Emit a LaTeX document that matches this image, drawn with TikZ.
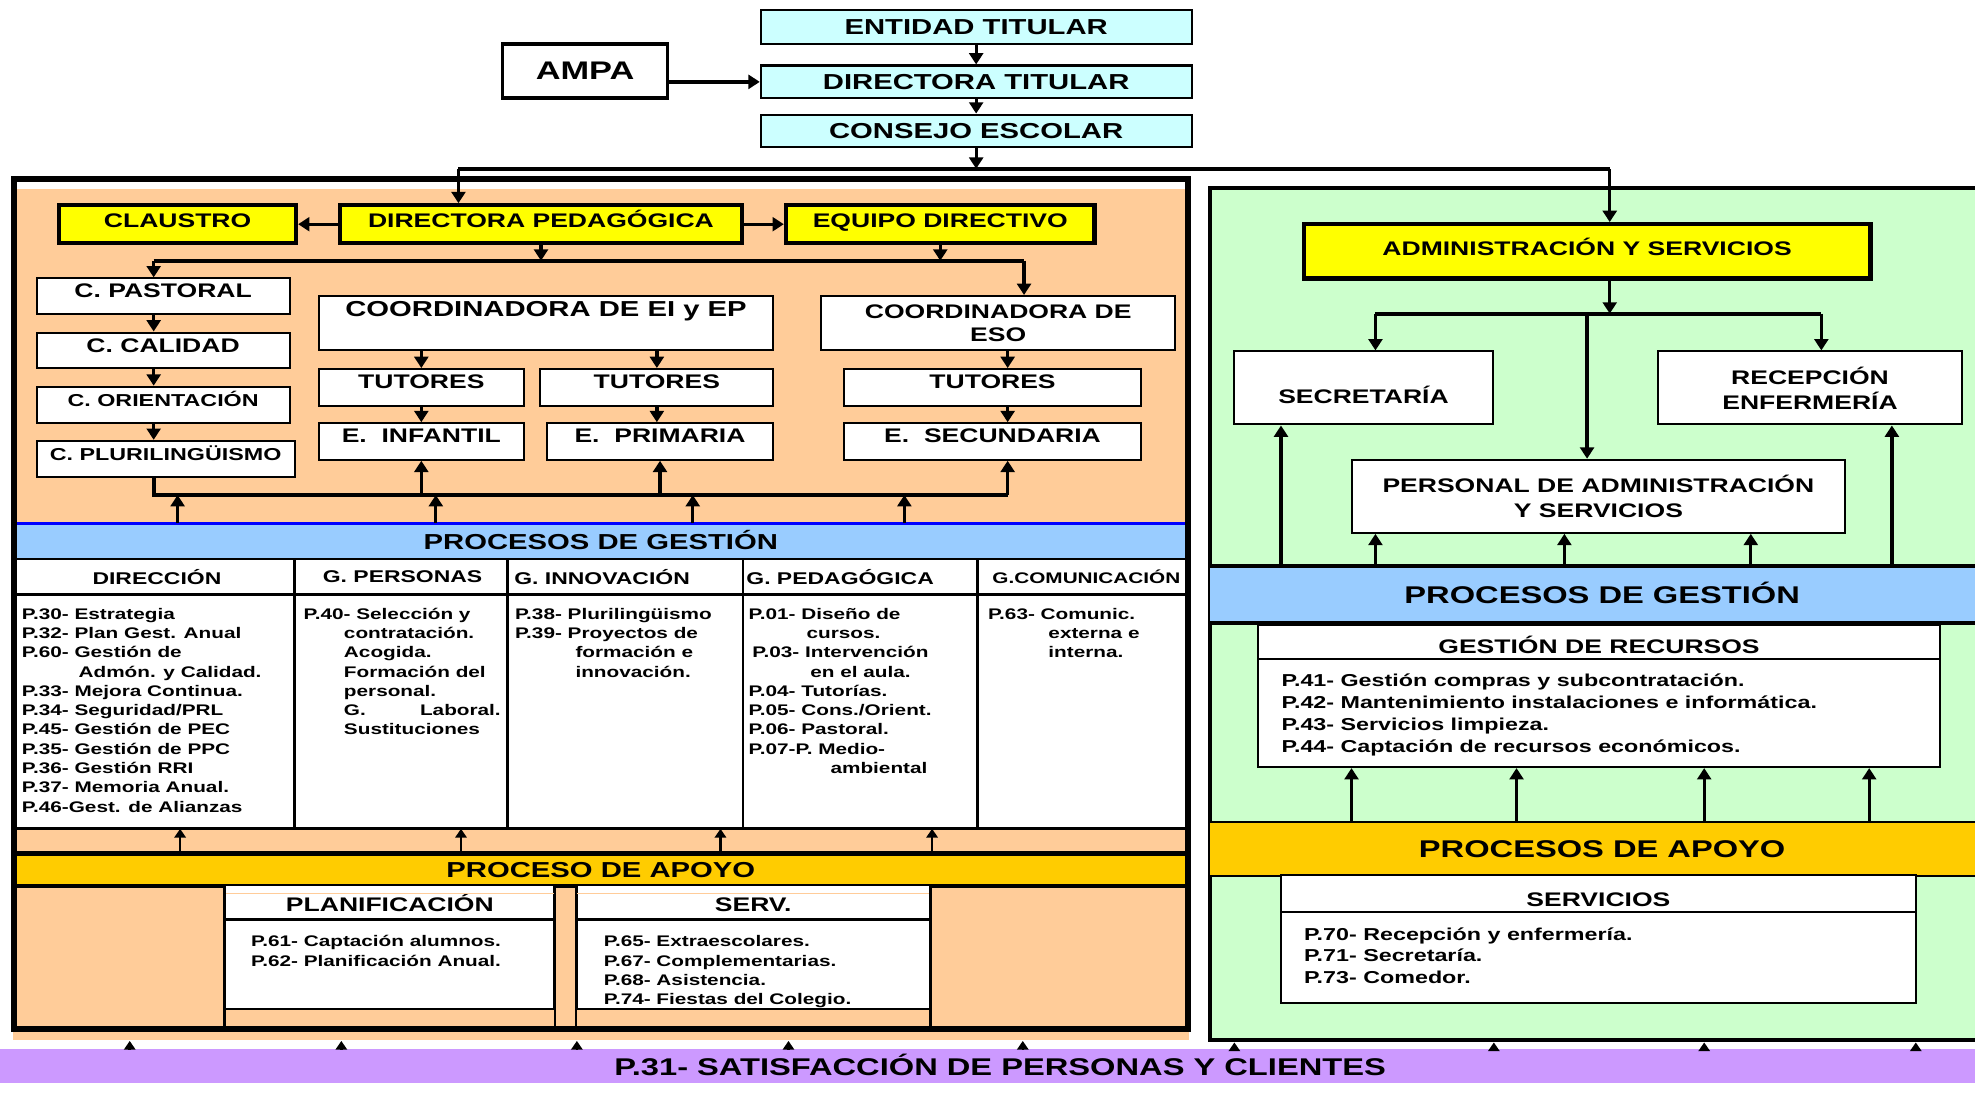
\documentclass[tikz,border=0pt]{standalone}
\usepackage{fontspec}
\setmainfont{Liberation Sans}[FakeStretch=1.35]
\usetikzlibrary{arrows.meta,positioning}

\definecolor{cyanbg}{HTML}{CCFFFF}
\definecolor{yellowbg}{HTML}{FFFF00}
\definecolor{orangebg}{HTML}{FFCC99}
\definecolor{bluebg}{HTML}{99CCFF}
\definecolor{goldbg}{HTML}{FFCC00}
\definecolor{greenbg}{HTML}{CCFFCC}
\definecolor{lilacbg}{HTML}{CC99FF}

\begin{document}
\begin{tikzpicture}[x=0.5pt,y=-0.5pt,font=\bfseries,
  every node/.style={inner sep=0pt},
  spans/.style n args={4}{at={({(#1+#3)/2},{(#2+#4)/2})},
    minimum width={(#3-#1)*0.5pt}, minimum height={(#4-#2)*0.5pt}},
  fA/.style={font=\bfseries\fontsize{8.6pt}{10pt}\selectfont},
  fB/.style={font=\bfseries\fontsize{7.8pt}{10pt}\selectfont},
  fC/.style={font=\bfseries\fontsize{6.85pt}{8.65pt}\selectfont},
  fD/.style={font=\bfseries\fontsize{6.1pt}{7.65pt}\selectfont},
  fE/.style={font=\bfseries\fontsize{9.6pt}{11pt}\selectfont},
  fH/.style={font=\bfseries\fontsize{6.75pt}{8pt}\selectfont},
  fampa/.style={font=\bfseries\fontsize{10.1pt}{12pt}\selectfont},
  cyanbox/.style={draw, line width=0.8pt, fill=cyanbg, fA},
  yellowbox/.style={draw, line width=1.7pt, fill=yellowbg, fB},
  whitebox/.style={draw, line width=0.8pt, fill=white},
  lifted/.style={text height=5.6pt, text depth=#1},
  sunk/.style={text height=#1, text depth=0pt},
  proc/.style={align=left, anchor=north west},
  arr/.style={-{Triangle[length=4.5pt,width=5.5pt]}, line width=1.3pt},
  smallarr/.style={-{Triangle[length=3.5pt,width=4.5pt]}, line width=1pt},
  bus/.style={line width=1.6pt},
]
\useasboundingbox (0,0) rectangle (1568,867);

% top of the chart
\node[cyanbox, spans={604}{8}{946}{35}] (entidad) {ENTIDAD TITULAR};
\node[cyanbox, spans={604}{52}{946}{78}] (dirtit) {DIRECTORA TITULAR};
\node[cyanbox, spans={604}{91}{946}{117}] (consejo) {CONSEJO ESCOLAR};
\node[draw, line width=1.5pt, fill=white, fampa, spans={399}{35}{530}{78}] (ampa) {AMPA};

% backgrounds
\fill[orangebg] (10,150) rectangle (944,817);
\node[fill=orangebg, spans={10}{819}{944}{826}] (lstrip) {};
\node[draw, line width=1.6pt, fill=greenbg, spans={961}{149}{1590}{826}] (rframe) {};
\coordinate (lbot) at (10,817);

% direction
\node[yellowbox, lifted=3pt, spans={47}{163}{235}{193}] (claustro) {CLAUSTRO};
\node[yellowbox, lifted=3pt, spans={270}{163}{589}{193}] (dirped) {DIRECTORA PEDAGÓGICA};
\node[yellowbox, lifted=3pt, spans={624}{163}{869}{193}] (equipo) {EQUIPO DIRECTIVO};

\node[whitebox, fB, lifted=4.2pt, spans={29}{221}{230}{249}] (pastoral) {C. PASTORAL};
\node[whitebox, fB, lifted=4pt, spans={29}{264}{230}{292}] (calidad) {C. CALIDAD};
\node[whitebox, fC, lifted=4.4pt, spans={29}{307}{230}{336}] (orient) {C. ORIENTACIÓN};
\node[whitebox, fC, lifted=4.4pt, spans={29}{350}{234}{379}] (pluri) {C. PLURILINGÜISMO};

\node[whitebox, spans={253}{235}{614}{278},
  label={[fA, anchor=north, yshift=-2.5pt]north:COORDINADORA DE EI y EP}] (coordei) {};
\node[whitebox, fB, align=center, spans={652}{235}{933}{278}] (coordeso) {COORDINADORA DE\\[-1pt]ESO};

\node[whitebox, fB, lifted=4.7pt, spans={253}{293}{416}{322}] (tutei) {TUTORES};
\node[whitebox, fB, lifted=4.7pt, spans={429}{293}{614}{322}] (tutep) {TUTORES};
\node[whitebox, fB, lifted=4.7pt, spans={670}{293}{906}{322}] (tuteso) {TUTORES};
\node[whitebox, fB, lifted=4.7pt, spans={253}{336}{416}{365}] (einf) {E.~~INFANTIL};
\node[whitebox, fB, lifted=4.7pt, spans={434}{336}{614}{365}] (eprim) {E.~~PRIMARIA};
\node[whitebox, fB, lifted=4.7pt, spans={670}{336}{906}{365}] (esec) {E.~~SECUNDARIA};

% gestion, left
\node[fill=bluebg, fA, sunk=6.2pt, spans={10}{416}{944}{444}] (gestL) {PROCESOS DE GESTIÓN};
\draw[blue, line width=1pt] (gestL.north west) -- (gestL.north east);
\fill[white] (10,444) rectangle (944,658);
\coordinate (tabbot) at (10,658);
\draw[line width=0.8pt] (10,444) -- (944,444);
\draw[line width=1.3pt] (10,472) -- (944,472) (tabbot) -- (944,658);
\foreach \x in {234,403,590,776} \draw[line width=1pt] (\x,444) -- (\x,658);

\node[fH] (hdir) at (124.6,458) {DIRECCIÓN};
\node[fH] (hper) at (319.6,458) {G. PERSONAS};
\node[fH] (hinn) at (478,458) {G. INNOVACIÓN};
\node[fH] (hped) at (667,458) {G. PEDAGÓGICA};
\node[fD] (hcom) at (862.5,458) {G.COMUNICACIÓN};

\node[fD, proc] (pdir) at (17,480.6) {\strut P.30- Estrategia\\
  P.32- Plan Gest. Anual\\
  P.60- Gestión de\\
  \hspace*{22.5pt}Admón. y Calidad.\\
  P.33- Mejora Continua.\\
  P.34- Seguridad/PRL\\
  P.45- Gestión de PEC\\
  P.35- Gestión de PPC\\
  P.36- Gestión RRI\\
  P.37- Memoria Anual.\\
  P.46-Gest. de Alianzas};
\node[fD, proc] (pper) at (240.7,480.6) {\strut P.40- Selección y\\
  \hspace*{16pt}contratación.\\
  \hspace*{16pt}Acogida.\\
  \hspace*{16pt}Formación del\\
  \hspace*{16pt}personal.\\
  \hspace*{16pt}G.\hspace{21.5pt}Laboral.\\
  \hspace*{16pt}Sustituciones};
\node[fD, proc] (pinn) at (408.5,480.6) {\strut P.38- Plurilingüismo\\
  P.39- Proyectos de\\
  \hspace*{24pt}formación e\\
  \hspace*{24pt}innovación.};
\node[fD, proc] (pped) at (594,480.6) {\strut P.01- Diseño de\\
  \hspace*{23pt}cursos.\\
  \hspace*{1.5pt}P.03- Intervención\\
  \hspace*{24.5pt}en el aula.\\
  P.04- Tutorías.\\
  P.05- Cons./Orient.\\
  P.06- Pastoral.\\
  P.07-P. Medio-\\
  \hspace*{32.5pt}ambiental};
\node[fD, proc] (pcom) at (784,480.6) {\strut P.63- Comunic.\\
  \hspace*{24pt}externa e\\
  \hspace*{24pt}interna.};

% apoyo, left
\node[fill=goldbg, fA, sunk=6.2pt, spans={10}{678}{944}{703}] (apoyoL) {PROCESO DE APOYO};
\draw[line width=1.6pt] (apoyoL.north west) -- (apoyoL.north east) (apoyoL.south west) -- (apoyoL.south east);

\node[whitebox, fB, sunk=7.1pt, spans={179}{703}{440}{730}] (planhead) {PLANIFICACIÓN};
\node[whitebox, spans={179}{730}{440}{801}] (planbody) {};
\node[whitebox, fB, sunk=7.1pt, spans={458}{703}{738}{730}] (servhead) {SERV.};
\node[whitebox, spans={458}{730}{738}{801}] (servbody) {};
\draw[orangebg, line width=0.6pt] ([yshift=-3.5pt]planhead.north west) -- ([yshift=-3.5pt]planhead.north east);
\draw[orangebg, line width=0.6pt] ([yshift=-3.5pt]servhead.north west) -- ([yshift=-3.5pt]servhead.north east);
\draw[line width=1pt] (planhead.north west) -- (planhead.north west |- lbot)
  (planhead.north east) -- (planhead.north east |- lbot)
  (servhead.north west) -- (servhead.north west |- lbot)
  (servhead.north east) -- (servhead.north east |- lbot);
\node[fD, proc] (pplan) at (199,740.6) {\strut P.61- Captación alumnos.\\
  P.62- Planificación Anual.};
\node[fD, proc] (pserv) at (479,740.6) {\strut P.65- Extraescolares.\\
  P.67- Complementarias.\\
  P.68- Asistencia.\\
  P.74- Fiestas del Colegio.};

\node[draw, line width=2.4pt, spans={11}{142}{943}{817}] (lframe) {};

% administracion, right
\node[yellowbox, lifted=2pt, spans={1035}{178}{1485}{221}] (admin) {ADMINISTRACIÓN Y SERVICIOS};
\node[whitebox, fB, sunk=12.6pt, spans={980}{279}{1185}{337}] (secr) {SECRETARÍA};
\node[whitebox, fB, align=center, spans={1316}{279}{1558}{337}] (recep) {RECEPCIÓN\\ENFERMERÍA};
\node[whitebox, fB, align=center, spans={1073}{365}{1465}{423}] (pers) {PERSONAL DE ADMINISTRACIÓN\\Y SERVICIOS};

\node[fill=bluebg, fE, sunk=6.9pt, spans={961}{450}{1583}{494}] (gestR) {PROCESOS DE GESTIÓN};
\draw[line width=1.6pt] (gestR.north west) -- (gestR.north east) (gestR.south west) -- (gestR.south east);
\node[whitebox, fB, sunk=9.1pt, spans={999}{496}{1540}{523}] (rechead) {GESTIÓN DE RECURSOS};
\node[whitebox, spans={999}{523}{1540}{609}] (recbody) {};
\node[fC, proc] (prec) at (1017,532.8) {\strut P.41- Gestión compras y subcontratación.\\
  P.42- Mantenimiento instalaciones e informática.\\
  P.43- Servicios limpieza.\\
  P.44- Captación de recursos económicos.};

\node[fill=goldbg, fE, sunk=6.9pt, spans={961}{653}{1583}{695}] (apoyoR) {PROCESOS DE APOYO};
\draw[line width=0.8pt] (apoyoR.north west) -- (apoyoR.north east) (apoyoR.south west) -- (apoyoR.south east);
\node[whitebox, fB, sunk=10.1pt, spans={1017}{695}{1521}{724}] (servihead) {SERVICIOS};
\node[whitebox, spans={1017}{724}{1521}{796}] (servibody) {};
\node[fC, proc] (pservi) at (1035,733.8) {\strut P.70- Recepción y enfermería.\\
  P.71- Secretaría.\\
  P.73- Comedor.};

% satisfaccion
\node[fill=lilacbg, fE, sunk=7.6pt, spans={0}{833}{1588}{860}] (satis) {P.31- SATISFACCIÓN DE PERSONAS Y CLIENTES};

% connectors, top
\coordinate (topL) at (364,134);
\coordinate (topR) at (1278,134);
\draw[arr] (entidad.south) -- (dirtit.north);
\draw[arr] (dirtit.south) -- (consejo.north);
\draw[arr] (ampa.east |- dirtit.west) -- (dirtit.west);
\draw[arr] (consejo.south) -- (consejo.south |- topL);
\draw[bus] (topL) -- (topR);
\draw[arr] (topL) -- (topL |- dirped.north);
\draw[arr] (topR) -- (topR |- admin.north);

% connectors, left
\coordinate (busL) at (122,207);
\coordinate (busR) at (813,207);
\draw[arr] (dirped.west) -- (claustro.east);
\draw[arr] (dirped.east) -- (equipo.west);
\draw[arr] (dirped.south) -- (dirped.south |- busL);
\draw[arr] (equipo.south) -- (equipo.south |- busL);
\draw[bus] (busL) -- (busR);
\draw[arr] (busL) -- (busL |- pastoral.north);
\draw[arr] (busR) -- (busR |- coordeso.north);
\draw[arr] (pastoral.south -| busL) -- (calidad.north -| busL);
\draw[arr] (calidad.south -| busL) -- (orient.north -| busL);
\draw[arr] (orient.south -| busL) -- (pluri.north -| busL);

\coordinate (lowL) at (122,393);
\coordinate (lowR) at (800,393);
\draw[arr] (coordei.south -| tutei.north) -- (tutei.north);
\draw[arr] (coordei.south -| tutep.north) -- (tutep.north);
\draw[arr] (tutei.south) -- (einf.north);
\draw[arr] (tutep.south) -- (tutep.south |- eprim.north);
\draw[arr] (coordeso.south -| lowR) -- (tuteso.north -| lowR);
\draw[arr] (tuteso.south -| lowR) -- (esec.north -| lowR);
\draw[bus] (pluri.south -| lowL) -- (lowL) -- (lowR);
\draw[arr] (einf.south |- lowL) -- (einf.south);
\draw[arr] (eprim.south |- lowL) -- (eprim.south);
\draw[arr] (lowR) -- (esec.south -| lowR);
\foreach \x in {141,346,550,718} {
  \coordinate (u) at (\x,0);
  \draw[arr] (u |- gestL.north) -- (u |- lowL);
}
\foreach \x in {143,366,572,740} {
  \coordinate (u) at (\x,0);
  \draw[smallarr] (u |- apoyoL.north) -- (u |- tabbot);
}

% connectors, right
\coordinate (admL) at (1092,249);
\coordinate (admM) at (1260,249);
\coordinate (admR) at (1446,249);
\draw[arr] (admin.south -| topR) -- (topR |- admL);
\draw[bus] (admL) -- (admR);
\draw[arr] (admL) -- (admL |- secr.north);
\draw[arr] (admR) -- (admR |- recep.north);
\draw[arr] (admM) -- (admM |- pers.north);
\foreach \x/\t in {1017/secr,1092/pers,1242/pers,1390/pers,1502/recep} {
  \coordinate (u) at (\x,0);
  \draw[arr] (u |- gestR.north) -- (u |- \t.south);
}
\foreach \x in {1073,1204,1353,1484} {
  \coordinate (u) at (\x,0);
  \draw[arr] (u |- apoyoR.north) -- (u |- recbody.south);
}

% satisfaccion arrows
\foreach \x in {103,271,458,626,812} {
  \coordinate (u) at (\x,0);
  \draw[smallarr] (u |- satis.north) -- (u |- lstrip.south);
}
\foreach \x in {980,1186,1353,1521} {
  \coordinate (u) at (\x,0);
  \draw[smallarr] (u |- satis.north) -- (u |- rframe.south);
}
\end{tikzpicture}
\end{document}
